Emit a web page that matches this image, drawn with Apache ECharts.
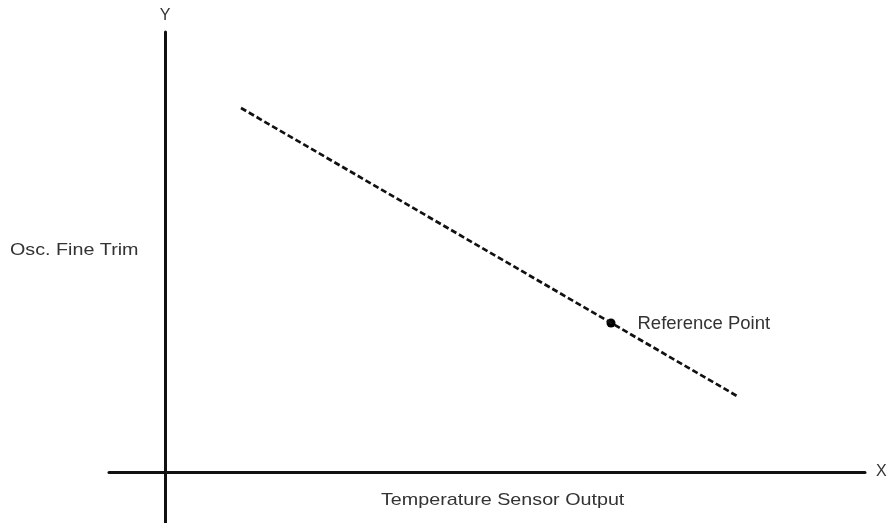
<!DOCTYPE html>
<html>
<head>
<meta charset="utf-8">
<script src="https://cdn.jsdelivr.net/npm/echarts@6/dist/echarts.min.js"></script>
<style>
  html, body { margin: 0; padding: 0; background: #fff; }
  #chart { width: 895px; height: 523px; }
</style>
</head>
<body>
<div id="chart"></div>
<script>
// Data (arbitrary units)
const lineX = [7.6, 57.2];
const lineY = [36.4, 7.6];
const refPoint = [44.6, 14.9];
const refLabel = 'Reference Point';
const xName = 'X';
const yName = 'Y';
const xTitle = 'Temperature Sensor Output';
const yTitle = 'Osc. Fine Trim';

const lineData = lineX.map((x, i) => [x, lineY[i]]);
const font = 'Liberation Sans, Arial, sans-serif';

const chart = echarts.init(document.getElementById('chart'), null, { renderer: 'canvas' });
chart.setOption({
  backgroundColor: '#ffffff',
  animation: false,
  grid: { left: 109, right: 30, top: 32, bottom: 0, containLabel: false },
  xAxis: {
    type: 'value', min: -5.6, max: 70,
    name: xName, nameLocation: 'end', nameGap: 11,
    nameTextStyle: { fontSize: 16, color: '#333', fontFamily: font, verticalAlign: 'middle' },
    axisLine: { show: true, onZero: true, lineStyle: { color: '#111', width: 3 } },
    axisTick: { show: false }, axisLabel: { show: false }, splitLine: { show: false }
  },
  yAxis: {
    type: 'value', min: -5.1, max: 44,
    name: yName, nameLocation: 'end', nameGap: 8,
    nameTextStyle: { fontSize: 16, color: '#333', fontFamily: font },
    axisLine: { show: true, onZero: true, lineStyle: { color: '#111', width: 3 } },
    axisTick: { show: false }, axisLabel: { show: false }, splitLine: { show: false }
  },
  graphic: [
    { type: 'text', x: 10, y: 250, scaleX: 1.16,
      style: { text: yTitle, fontSize: 17, fill: '#333', fontFamily: font,
        textAlign: 'left', textVerticalAlign: 'middle' } },
    { type: 'text', x: 381, y: 500, scaleX: 1.16,
      style: { text: xTitle, fontSize: 17, fill: '#333', fontFamily: font,
        textAlign: 'left', textVerticalAlign: 'middle' } }
  ],
  series: [
    {
      type: 'line', data: lineData, symbol: 'none',
      lineStyle: { color: '#111', width: 2.7, type: [6, 3] }
    },
    {
      type: 'scatter', data: [refPoint], symbol: 'circle', symbolSize: 9,
      itemStyle: { color: '#000', opacity: 1 },
      label: { show: true, position: 'right', distance: 22, formatter: refLabel,
        fontSize: 18.5, color: '#333', fontFamily: font, offset: [0, 1] }
    }
  ]
});
</script>
</body>
</html>
